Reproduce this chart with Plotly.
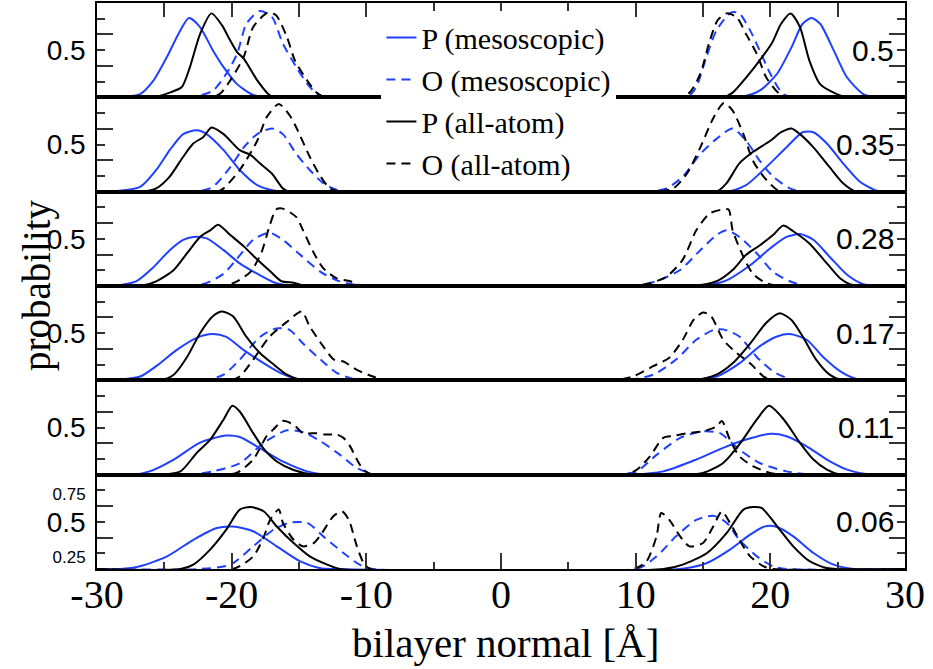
import plotly.graph_objects as go
from plotly.subplots import make_subplots

# ---------------- data ----------------
PANEL_LABELS = ["0.5", "0.35", "0.28", "0.17", "0.11", "0.06"]

X_TICKS = [-30, -20, -10, 0, 10, 20, 30]
X_TICKTEXT = ["-30", "-20", "-10", "0", "10", "20", "30"]

# P (mesoscopic): one list per panel (top to bottom)
P_MESO_X = [
    [-30, -29.0, -26.8, -25.8, -24.8, -23.96, -23.17, -22.35, -21.4, -20.6, -19.6, -18.4, -17.2,
     17.7, 19.2, 20.5, 21.57, 22.4, 23.06, 23.7, 24.7, 25.7, 26.9, 27.9, 30],
    [-30, -29.0, -26.8, -25.6, -24.6, -23.6, -22.6, -21.86, -20.6, -19.4, -18.1, -16.7, -16.0,
     16.75, 18.2, 19.7, 21.2, 22.4, 23.2, 24.2, 25.4, 26.65, 27.9, 28.6, 30],
    [-30, -29.0, -27.1, -25.8, -24.6, -23.6, -22.85, -21.86, -20.6, -19.4, -18.1, -16.7, -15.2,
     14.8, 16.75, 18.5, 20.0, 21.2, 22.2, 23.2, 24.4, 25.7, 26.9, 27.9, 30],
    [-30, -29.0, -26.8, -25.6, -24.1, -22.6, -21.4, -20.4, -19.1, -17.6, -16.4, -14.9, -13.7,
     14.3, 16.0, 17.7, 19.2, 20.5, 21.45, 22.7, 23.9, 25.2, 26.4, 27.4, 30],
    [-30, -27.3, -26.1, -24.3, -22.35, -20.4, -19.4, -17.9, -16.2, -14.4, -12.9,
     9.57, 12.05, 14.5, 16.5, 18.2, 20.0, 21.2, 22.7, 24.2, 25.7, 27.1, 28.1, 30],
    [-30, -28.3, -26.8, -24.8, -22.85, -21.1, -19.9, -18.4, -16.65, -14.9, -13.4, -12.4,
     13.3, 15.3, 17.0, 18.5, 19.6, 20.5, 21.7, 23.2, 24.7, 26.2, 30],
]
P_MESO_Y = [
    [0, 0, 0.035, 0.18, 0.43, 0.67, 0.84, 0.745, 0.50, 0.32, 0.14, 0.025, 0,
     0, 0.07, 0.25, 0.53, 0.78, 0.84, 0.78, 0.50, 0.21, 0.035, 0, 0],
    [0, 0, 0.05, 0.23, 0.44, 0.61, 0.65, 0.61, 0.44, 0.23, 0.07, 0.007, 0,
     0, 0.07, 0.26, 0.47, 0.63, 0.63, 0.51, 0.30, 0.105, 0.01, 0, 0],
    [0, 0, 0.05, 0.20, 0.38, 0.49, 0.52, 0.505, 0.38, 0.24, 0.13, 0.03, 0,
     0, 0.06, 0.22, 0.40, 0.52, 0.55, 0.49, 0.31, 0.12, 0.02, 0, 0],
    [0, 0, 0.04, 0.15, 0.32, 0.45, 0.49, 0.46, 0.32, 0.18, 0.08, 0.007, 0,
     0, 0.04, 0.18, 0.36, 0.465, 0.49, 0.43, 0.25, 0.095, 0.014, 0, 0],
    [0, 0, 0.035, 0.16, 0.34, 0.415, 0.40, 0.28, 0.14, 0.035, 0,
     0, 0.035, 0.16, 0.284, 0.372, 0.433, 0.408, 0.30, 0.16, 0.053, 0.007, 0, 0],
    [0, 0, 0.03, 0.134, 0.31, 0.435, 0.45, 0.40, 0.24, 0.08, 0.007, 0,
     0, 0.064, 0.205, 0.364, 0.452, 0.445, 0.346, 0.17, 0.046, 0, 0],
]

# O (mesoscopic)
O_MESO_X = [
    [-30, -23.1, -21.4, -20.4, -19.6, -18.9, -17.9, -17.0, -16.2, -15.2, -14.2, -13.4, -12.8,
     13.8, 14.5, 15.26, 16.0, 17.1, 17.7, 18.5, 19.2, 20.0, 20.95, 21.9, 30],
    [-30, -22.6, -21.4, -20.1, -19.1, -18.1, -17.0, -16.2, -15.2, -14.2, -13.2, -12.2, -11.2,
     11.05, 12.3, 13.5, 14.8, 16.0, 17.2, 18.2, 19.2, 20.2, 21.45, 22.4, 30],
    [-30, -23.1, -21.9, -20.6, -19.6, -18.4, -17.2, -16.2, -14.9, -13.4, -12.2, -10.7, -9.7,
     9.8, 11.5, 13.3, 14.8, 16.0, 16.75, 17.7, 18.97, 20.2, 21.45, 22.7, 30],
    [-30, -22.1, -20.6, -19.4, -17.9, -16.7, -15.7, -14.7, -13.4, -12.2, -10.96, -10.2,
     9.3, 11.3, 13.0, 14.5, 15.8, 16.5, 17.7, 18.97, 20.2, 21.45, 22.2, 30],
    [-30, -23.3, -21.4, -19.4, -17.6, -15.9, -14.7, -13.4, -11.95, -10.7, -9.5, -8.5,
     8.3, 10.07, 11.55, 13.3, 15.0, 16.26, 17.7, 19.2, 21.2, 23.2, 30],
    [-30, -22.35, -20.1, -18.4, -16.9, -15.7, -14.4, -13.2, -11.7, -10.5, -9.5,
     10.07, 11.55, 13.0, 14.5, 15.76, 16.75, 17.7, 19.0, 20.2, 21.2, 30],
]
O_MESO_Y = [
    [0, 0, 0.07, 0.25, 0.46, 0.78, 0.915, 0.85, 0.57, 0.32, 0.11, 0.01, 0,
     0, 0.11, 0.43, 0.71, 0.90, 0.89, 0.71, 0.50, 0.25, 0.035, 0, 0],
    [0, 0, 0.05, 0.26, 0.47, 0.61, 0.67, 0.61, 0.40, 0.23, 0.09, 0.02, 0,
     0, 0.035, 0.16, 0.40, 0.56, 0.67, 0.54, 0.33, 0.16, 0.035, 0, 0],
    [0, 0, 0.03, 0.13, 0.29, 0.49, 0.565, 0.49, 0.33, 0.15, 0.06, 0.01, 0,
     0, 0.05, 0.17, 0.38, 0.54, 0.59, 0.52, 0.35, 0.15, 0.05, 0, 0],
    [0, 0, 0.06, 0.22, 0.46, 0.55, 0.535, 0.39, 0.22, 0.08, 0.014, 0,
     0, 0.06, 0.22, 0.43, 0.535, 0.54, 0.465, 0.25, 0.095, 0.014, 0, 0],
    [0, 0, 0.035, 0.12, 0.34, 0.47, 0.45, 0.355, 0.21, 0.07, 0.007, 0,
     0, 0.035, 0.21, 0.39, 0.46, 0.44, 0.266, 0.124, 0.035, 0, 0],
    [0, 0, 0.046, 0.24, 0.417, 0.49, 0.49, 0.346, 0.17, 0.046, 0,
     0, 0.134, 0.346, 0.52, 0.565, 0.49, 0.31, 0.134, 0.028, 0, 0],
]

# P (all-atom)
P_AA_X = [
    [-30, -25.8, -24.6, -23.7, -23.1, -22.35, -21.5, -20.7, -20.25, -19.6, -19.1, -18.1, -17.2, -16.7,
     16.5, 17.2, 18.2, 19.2, 20.1, 20.8, 21.5, 22.2, 22.9, 23.7, 24.7, 25.7, 30],
    [-30, -26.6, -25.6, -24.6, -23.6, -22.85, -22.1, -21.5, -20.6, -19.4, -18.6, -17.9, -17.0, -16.2, -15.7,
     16.0, 16.75, 17.7, 18.7, 20.0, 20.8, 21.57, 22.2, 23.2, 24.4, 25.4, 26.4, 30],
    [-30, -26.8, -25.6, -24.3, -23.3, -22.35, -21.6, -21.0, -20.1, -19.1, -18.1, -17.1, -16.3, -15.4, -14.4,
     14.3, 16.0, 17.2, 18.2, 19.2, 20.2, 20.95, 21.7, 22.9, 24.2, 25.2, 25.9, 26.6, 30],
    [-30, -25.3, -24.3, -23.3, -22.35, -21.4, -20.7, -19.9, -18.9, -17.9, -16.9, -15.9, -14.9, -14.2,
     14.3, 16.0, 17.2, 18.5, 19.7, 20.7, 21.57, 22.4, 23.4, 24.4, 25.2, 26.0, 30],
    [-30, -25.3, -23.8, -22.6, -21.6, -20.6, -19.95, -19.4, -18.4, -17.6, -16.65, -15.4, -13.9,
     13.5, 15.0, 16.5, 17.7, 19.0, 19.9, 21.0, 22.2, 23.2, 24.2, 25.2, 30],
    [-30, -23.8, -22.85, -21.6, -20.4, -19.4, -18.6, -17.6, -16.65, -15.4, -14.2, -12.9, -11.95,
     12.05, 13.5, 15.3, 16.75, 18.0, 18.7, 19.35, 20.7, 21.7, 22.94, 24.2, 25.0, 30],
]
P_AA_Y = [
    [0, 0, 0.05, 0.11, 0.32, 0.67, 0.89, 0.76, 0.64, 0.48, 0.41, 0.18, 0.025, 0,
     0, 0.05, 0.21, 0.39, 0.57, 0.78, 0.89, 0.745, 0.39, 0.14, 0.05, 0, 0],
    [0, 0, 0.035, 0.16, 0.37, 0.51, 0.58, 0.68, 0.61, 0.44, 0.39, 0.30, 0.19, 0.035, 0,
     0, 0.09, 0.30, 0.42, 0.54, 0.63, 0.67, 0.61, 0.47, 0.26, 0.09, 0, 0],
    [0, 0, 0.05, 0.17, 0.35, 0.52, 0.59, 0.65, 0.54, 0.42, 0.28, 0.15, 0.05, 0.035, 0,
     0, 0.05, 0.17, 0.33, 0.43, 0.54, 0.64, 0.58, 0.45, 0.24, 0.08, 0.02, 0, 0],
    [0, 0, 0.06, 0.25, 0.50, 0.68, 0.73, 0.68, 0.46, 0.29, 0.17, 0.06, 0.007, 0,
     0, 0.06, 0.18, 0.39, 0.61, 0.71, 0.64, 0.465, 0.22, 0.06, 0.007, 0, 0],
    [0, 0, 0.035, 0.23, 0.37, 0.585, 0.73, 0.67, 0.44, 0.27, 0.14, 0.05, 0,
     0, 0.018, 0.124, 0.32, 0.585, 0.73, 0.585, 0.337, 0.16, 0.053, 0, 0],
    [0, 0, 0.046, 0.205, 0.417, 0.63, 0.657, 0.61, 0.45, 0.275, 0.134, 0.046, 0,
     0, 0.046, 0.17, 0.38, 0.63, 0.657, 0.647, 0.417, 0.24, 0.08, 0.01, 0, 0],
]

# O (all-atom)
O_AA_X = [
    [-30, -22.1, -20.9, -20.1, -19.1, -18.4, -17.3, -16.7, -15.9, -15.3, -14.4, -13.7, -13.2, -12.6,
     13.0, 14.0, 14.8, 15.5, 16.1, 16.75, 17.5, 18.2, 19.0, 19.7, 20.7, 21.5, 30],
    [-30, -21.1, -20.6, -19.4, -18.1, -17.4, -16.5, -15.7, -15.2, -14.2, -13.4, -12.7, -11.96,
     11.3, 12.8, 13.8, 14.8, 15.8, 16.55, 17.2, 18.0, 18.7, 19.5, 20.5, 21.2, 30],
    [-30, -20.6, -19.6, -18.6, -17.8, -17.2, -16.7, -16.2, -15.2, -14.7, -13.9, -13.2, -12.2, -11.2, -10.2,
     9.3, 11.05, 12.3, 13.5, 14.5, 15.5, 16.4, 16.9, 17.2, 18.0, 18.7, 19.7, 20.7, 30],
    [-30, -20.1, -19.4, -18.4, -17.2, -15.9, -14.8, -14.2, -13.2, -12.4, -11.7, -10.7, -9.5, -8.5,
     8.33, 9.8, 11.3, 12.5, 13.5, 14.3, 15.0, 15.6, 16.5, 17.5, 18.5, 19.5, 20.2, 30],
    [-30, -20.4, -19.6, -18.4, -17.4, -16.9, -16.2, -15.4, -14.7, -13.7, -13.1, -12.2, -11.7, -11.2, -10.7, -10.2, -9.5,
     9.08, 10.07, 11.06, 12.05, 12.8, 13.8, 15.0, 16.0, 16.4, 17.0, 17.7, 18.7, 20.0, 21.2, 30],
    [-30, -19.9, -18.4, -17.6, -17.15, -16.5, -16.2, -15.4, -14.7, -13.9, -13.3, -12.45, -11.8, -11.3, -10.7, -10.2, -9.7,
     9.82, 10.8, 11.55, 11.9, 12.5, 13.3, 14.0, 15.0, 15.76, 16.4, 17.0, 17.7, 18.5, 19.5, 20.2, 30],
]
O_AA_Y = [
    [0, 0, 0.035, 0.18, 0.43, 0.745, 0.90, 0.87, 0.64, 0.39, 0.18, 0.05, 0.01, 0,
     0, 0.05, 0.25, 0.60, 0.82, 0.89, 0.85, 0.67, 0.46, 0.21, 0.035, 0, 0],
    [0, 0, 0.035, 0.23, 0.54, 0.79, 0.93, 0.81, 0.68, 0.37, 0.16, 0.035, 0,
     0, 0.035, 0.19, 0.47, 0.79, 0.94, 0.86, 0.61, 0.33, 0.16, 0.02, 0, 0],
    [0, 0, 0.05, 0.15, 0.35, 0.63, 0.81, 0.82, 0.73, 0.59, 0.35, 0.19, 0.08, 0.05, 0,
     0, 0.03, 0.10, 0.28, 0.59, 0.77, 0.81, 0.81, 0.59, 0.31, 0.13, 0.03, 0, 0],
    [0, 0, 0.04, 0.22, 0.46, 0.62, 0.73, 0.57, 0.36, 0.22, 0.20, 0.11, 0.04, 0,
     0, 0.04, 0.15, 0.24, 0.43, 0.64, 0.72, 0.68, 0.43, 0.29, 0.18, 0.04, 0, 0],
    [0, 0, 0.02, 0.16, 0.41, 0.48, 0.57, 0.53, 0.44, 0.44, 0.425, 0.425, 0.39, 0.30, 0.16, 0.05, 0,
     0, 0.05, 0.195, 0.39, 0.41, 0.44, 0.46, 0.51, 0.57, 0.37, 0.195, 0.09, 0.018, 0, 0],
    [0, 0, 0.134, 0.346, 0.52, 0.63, 0.49, 0.31, 0.24, 0.275, 0.38, 0.56, 0.61, 0.52, 0.24, 0.064, 0,
     0, 0.08, 0.346, 0.594, 0.52, 0.346, 0.24, 0.276, 0.45, 0.61, 0.49, 0.31, 0.134, 0.028, 0, 0],
]

SERIES = [
    ("P (mesoscopic)", P_MESO_X, P_MESO_Y, "#1f40ff", "solid"),
    ("O (mesoscopic)", O_MESO_X, O_MESO_Y, "#1f40ff", "9px,6px"),
    ("P (all-atom)", P_AA_X, P_AA_Y, "#000000", "solid"),
    ("O (all-atom)", O_AA_X, O_AA_Y, "#000000", "9px,6px"),
]

SERIF = "Liberation Serif"
SANS = "Liberation Sans"
NP = len(PANEL_LABELS)

fig = make_subplots(rows=NP, cols=1, shared_xaxes=True, vertical_spacing=0)

for p in range(NP):
    for name, xs, ys, color, dash in SERIES:
        fig.add_trace(
            go.Scatter(
                x=xs[p], y=ys[p], mode="lines", name=name,
                legendgroup=name, showlegend=(p == 0),
                line=dict(color=color, width=2, dash=dash, shape="spline", smoothing=0.7),
                hoverinfo="skip",
            ),
            row=p + 1, col=1,
        )

# empty trace so that the top tick axis exists
fig.add_trace(go.Scatter(x=[], y=[], xaxis="x7", yaxis="y", showlegend=False, hoverinfo="skip"))

for p in range(NP):
    r = p + 1
    last = (r == NP)
    fig.update_xaxes(
        range=[-30, 30], showline=True, linecolor="black", linewidth=1.5, mirror=True,
        showgrid=False, zeroline=False,
        ticks="inside" if last else "", showticklabels=last,
        tickvals=X_TICKS, ticktext=X_TICKTEXT, ticklen=16, tickwidth=1.5, tickcolor="#333",
        tickfont=dict(family=SERIF, size=40, color="black"), ticklabelstandoff=-11,
        minor=dict(tickvals=[-25, -15, -5, 5, 15, 25], ticklen=7, ticks="inside" if last else "",
                   tickcolor="#333", tickwidth=1.5),
        row=r, col=1,
    )
    if last:
        ytext = ['<span style="font-size:17px">0.25</span>', "0.5",
                 '<span style="font-size:17px">0.75</span>']
    else:
        ytext = ["", "0.5", ""]
    fig.update_yaxes(
        range=[0, 1], showline=True, linecolor="black", linewidth=1.5, mirror="ticks",
        showgrid=False, zeroline=False, ticks="inside",
        tickvals=[1 / 6, 0.5, 5 / 6], ticktext=ytext, ticklen=8, tickwidth=1.5, tickcolor="#333",
        minor=dict(tickvals=[1 / 3, 2 / 3], ticklen=16, ticks="inside", tickcolor="#333", tickwidth=1.5),
        tickfont=dict(family=SANS, size=28, color="black"), ticklabelstandoff=4,
        row=r, col=1,
    )

fig.update_layout(
    xaxis7=dict(overlaying="x", anchor="y", side="top", range=[-30, 30], ticks="inside",
                tick0=0, dtick=5, ticklen=14, tickwidth=1.5, tickcolor="#333",
                showticklabels=False, showline=False, showgrid=False, zeroline=False),
)

annotations = []
for p, lab in enumerate(PANEL_LABELS):
    sfx = "" if p == 0 else str(p + 1)
    annotations.append(dict(
        x=29.3, y=0.5, xref="x" + sfx, yref="y" + sfx, text=lab, showarrow=False,
        xanchor="right", yanchor="middle", font=dict(family=SANS, size=30, color="black"),
    ))
annotations.append(dict(
    x=-0.074, y=0.502, xref="paper", yref="paper", text="probability", textangle=-90,
    showarrow=False, xanchor="center", yanchor="middle",
    font=dict(family=SERIF, size=39, color="black"),
))
annotations.append(dict(
    x=0.505, y=-0.131, xref="paper", yref="paper", text="bilayer normal [Å]",
    showarrow=False, xanchor="center", yanchor="middle",
    font=dict(family=SERIF, size=41, color="black"),
))

fig.update_layout(
    width=933, height=669,
    margin=dict(l=97, r=28, t=3, b=100),
    paper_bgcolor="white", plot_bgcolor="white",
    annotations=annotations,
    legend=dict(x=0.352, y=0.985, xanchor="left", yanchor="top", bgcolor="white",
                borderwidth=0, font=dict(family=SERIF, size=30, color="black"),
                tracegroupgap=0, traceorder="normal"),
)

fig.write_html(
    "out.html",
    config={"displayModeBar": False},
    post_script="document.body.style.margin='0px';document.body.style.overflow='hidden';",
)
